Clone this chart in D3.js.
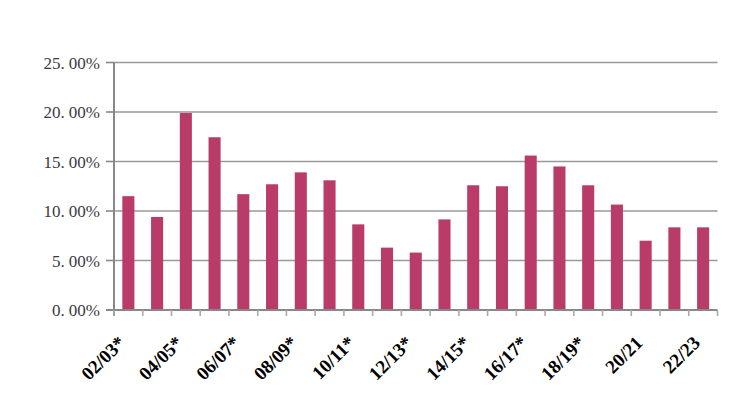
<!DOCTYPE html>
<html>
<head>
<meta charset="utf-8">
<script src="https://cdn.jsdelivr.net/npm/d3@7"></script>
<style>
  html, body { margin: 0; padding: 0; background: #fff; }
  svg { display: block; }
</style>
</head>
<body>
<svg id="chart" width="740" height="412"></svg>
<script>
const categories = ["02/03*","03/04*","04/05*","05/06*","06/07*","07/08*","08/09*","09/10*","10/11*","11/12*","12/13*","13/14*","14/15*","15/16*","16/17*","17/18*","18/19*","19/20*","20/21","21/22","22/23"];
const values = [11.5, 9.4, 19.9, 17.45, 11.7, 12.7, 13.9, 13.1, 8.65, 6.3, 5.8, 9.15, 12.6, 12.5, 15.6, 14.5, 12.6, 10.65, 7.0, 8.35, 8.35];
const yTicks = [0, 5, 10, 15, 20, 25];

const svg = d3.select("#chart");
const mLeft = 114, mRight = 717.5, mTop = 62.5, mBottom = 310;

const x = d3.scaleBand().domain(categories).range([mLeft, mRight]).paddingInner(0.58).paddingOuter(0.29);
const y = d3.scaleLinear().domain([0, 25]).range([mBottom, mTop]);

// gridlines
svg.append("g").selectAll("line").data(yTicks.filter(d => d > 0)).join("line")
  .attr("x1", mLeft).attr("x2", mRight)
  .attr("y1", d => y(d)).attr("y2", d => y(d))
  .attr("stroke", "#999").attr("stroke-width", 1.6);

// bars
svg.append("g").selectAll("rect").data(values).join("rect")
  .attr("x", (d, i) => x(categories[i]))
  .attr("y", d => y(d))
  .attr("width", x.bandwidth())
  .attr("height", d => y(0) - y(d))
  .attr("fill", "#b93c68");

// y axis line and ticks
svg.append("line").attr("x1", mLeft).attr("x2", mLeft).attr("y1", mTop).attr("y2", mBottom + 6)
  .attr("stroke", "#888").attr("stroke-width", 2);
svg.append("g").selectAll("line").data(yTicks).join("line")
  .attr("x1", mLeft - 8).attr("x2", mLeft)
  .attr("y1", d => y(d)).attr("y2", d => y(d))
  .attr("stroke", "#888").attr("stroke-width", 1.6);

// y labels
const yl = svg.append("g").selectAll("text").data(yTicks).join("text")
  .attr("x", 100).attr("y", d => y(d) + 6)
  .attr("text-anchor", "end")
  .attr("font-family", "'Liberation Serif', 'DejaVu Serif', serif")
  .attr("font-size", 17)
  .attr("fill", "#3a3a44");
yl.append("tspan").text(d => d.toFixed(0) + ".");
yl.append("tspan").attr("dx", 4).text("00%");

// x axis line
svg.append("line").attr("x1", mLeft - 8).attr("x2", mRight).attr("y1", mBottom).attr("y2", mBottom)
  .attr("stroke", "#888").attr("stroke-width", 2);

// x ticks at band boundaries
const bounds = d3.range(categories.length + 1).map(i => x.range()[0] + i * x.step());
svg.append("g").selectAll("line").data(bounds).join("line")
  .attr("x1", d => d).attr("x2", d => d)
  .attr("y1", mBottom).attr("y2", mBottom + 6)
  .attr("stroke", "#aaa").attr("stroke-width", 1.6);

// x labels (every other)
svg.append("g").selectAll("text").data(categories.filter((c, i) => i % 2 === 0)).join("text")
  .attr("transform", d => `translate(${x(d) + x.bandwidth() / 2 - 2},${mBottom + 34}) rotate(-45)`)
  .attr("text-anchor", "end")
  .attr("font-family", "'Liberation Serif', 'DejaVu Serif', serif")
  .attr("font-weight", "bold")
  .attr("font-size", 19)
  .attr("fill", "#000")
  .text(d => d);
</script>
</body>
</html>
